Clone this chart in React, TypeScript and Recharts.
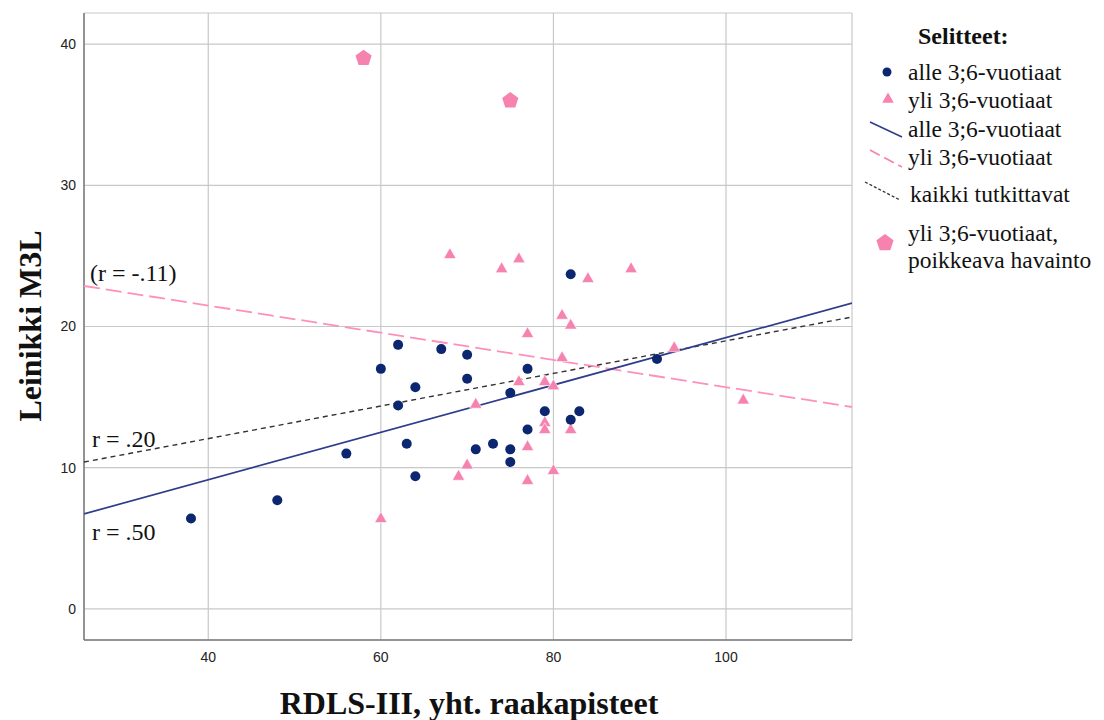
import React from 'react';
import { ScatterChart, Scatter, XAxis, YAxis, CartesianGrid } from 'recharts';

// alle 3;6-vuotiaat (x = RDLS-III raw score, y = Leinikki M3L)
const youngX = [38, 48, 56, 60, 62, 62, 63, 64, 64, 67, 70, 70, 71, 73, 75, 75, 75, 77, 77, 79, 82, 82, 83, 92];
const youngY = [6.4, 7.7, 11.0, 17.0, 18.7, 14.4, 11.7, 15.7, 9.4, 18.4, 18.0, 16.3, 11.3, 11.7, 11.3, 10.4, 15.3, 17.0, 12.7, 14.0, 23.7, 13.4, 14.0, 17.7];

// yli 3;6-vuotiaat
const oldX = [60, 68, 69, 70, 71, 74, 76, 76, 77, 77, 77, 79, 79, 79, 80, 80, 81, 81, 82, 82, 84, 89, 94, 102];
const oldY = [6.4, 25.1, 9.4, 10.2, 14.5, 24.1, 24.8, 16.1, 19.5, 11.5, 9.1, 16.1, 13.2, 12.7, 15.8, 9.8, 20.8, 17.8, 20.1, 12.7, 23.4, 24.1, 18.5, 14.8];

// yli 3;6-vuotiaat, poikkeava havainto
const outlierX = [58, 75];
const outlierY = [39, 36];

// fit lines, values at the ends of the x range
const fitX = [25.6, 114.6];
const fitYoung = [6.73, 21.66];
const fitOld = [22.87, 14.3];
const fitAll = [10.4, 20.67];

const xTicks = [40, 60, 80, 100];
const yTicks = [0, 10, 20, 30, 40];

const NAVY = '#0c2670';
const PINK = '#f682b0';
const SERIF = '"Liberation Serif", "Times New Roman", serif';

const pts = (xs: number[], ys: number[]) => xs.map((x, i) => ({ x, y: ys[i] }));

const youngData = pts(youngX, youngY);
const oldData = pts(oldX, oldY);
const outlierData = pts(outlierX, outlierY);
const fitYoungData = pts(fitX, fitYoung);
const fitOldData = pts(fitX, fitOld);
const fitAllData = pts(fitX, fitAll);

const triPoints = (cx: number, cy: number, s: number) =>
  `${cx},${cy - s * 1.1} ${cx + s},${cy + s * 0.65} ${cx - s},${cy + s * 0.65}`;

const pentPoints = (cx: number, cy: number, r: number) =>
  [0, 1, 2, 3, 4]
    .map((k) => {
      const a = -Math.PI / 2 + (k * 2 * Math.PI) / 5;
      return `${cx + r * Math.cos(a)},${cy + r * Math.sin(a)}`;
    })
    .join(' ');

const DotShape = (p: any) => <circle cx={p.cx} cy={p.cy} r={5} fill={NAVY} />;
const TriShape = (p: any) => (
  <polygon points={triPoints(p.cx, p.cy, 6.2)} fill={PINK} stroke="#fff" strokeWidth={0.6} />
);
const PentShape = (p: any) => <polygon points={pentPoints(p.cx, p.cy, 8.5)} fill={PINK} />;
const NoShape = () => <g />;

const legendText: React.CSSProperties = { fontFamily: SERIF, fontSize: 23.5, fill: '#111' };

const Overlay = () => (
  <svg width={1104} height={720} style={{ position: 'absolute', left: 0, top: 0, pointerEvents: 'none' }}>
    <text x={30} y={326} transform="rotate(-90 30 326)" textAnchor="middle" dominantBaseline="central"
      style={{ fontFamily: SERIF, fontSize: 32, fontWeight: 700, fill: '#111' }}>Leinikki M3L</text>
    <text x={469} y={714} textAnchor="middle" style={{ fontFamily: SERIF, fontSize: 32, fontWeight: 700, fill: '#111' }}>
      RDLS-III, yht. raakapisteet
    </text>

    <text x={90} y={281} style={{ fontFamily: SERIF, fontSize: 24, fill: '#111' }}>(r = -.11)</text>
    <text x={92} y={447} style={{ fontFamily: SERIF, fontSize: 24, fill: '#111' }}>r = .20</text>
    <text x={92} y={540} style={{ fontFamily: SERIF, fontSize: 24, fill: '#111' }}>r = .50</text>

    <text x={918} y={44} style={{ fontFamily: SERIF, fontSize: 24, fontWeight: 700, fill: '#111' }}>Selitteet:</text>
    <circle cx={887} cy={72} r={4.5} fill={NAVY} />
    <text x={908} y={80} style={legendText}>alle 3;6-vuotiaat</text>
    <polygon points={triPoints(888, 99, 5.8)} fill={PINK} />
    <text x={908} y={108} style={legendText}>yli 3;6-vuotiaat</text>
    <line x1={870} y1={122} x2={902} y2={137} stroke="#2e3d8c" strokeWidth={1.6} />
    <text x={908} y={137} style={legendText}>alle 3;6-vuotiaat</text>
    <line x1={870} y1={150} x2={902} y2={167} stroke={PINK} strokeWidth={1.7} strokeDasharray="11 5" />
    <text x={908} y={165} style={legendText}>yli 3;6-vuotiaat</text>
    <line x1={865} y1={182} x2={900} y2={200} stroke="#333" strokeWidth={1.3} strokeDasharray="3 2" />
    <text x={910} y={202} style={legendText}>kaikki tutkittavat</text>
    <polygon points={pentPoints(885, 243, 9)} fill={PINK} />
    <text x={908} y={241} style={legendText}>yli 3;6-vuotiaat,</text>
    <text x={908} y={268} style={legendText}>poikkeava havainto</text>
  </svg>
);

const App = () => (
  <div style={{ position: 'absolute', left: 0, top: 0, width: 1104, height: 720, background: '#fff' }}>
    <ScatterChart width={1104} height={720} margin={{ top: 13, right: 252, bottom: 50, left: 44 }}>
      <CartesianGrid stroke="#c8c8c8" strokeWidth={1.2} />
      <XAxis
        type="number"
        dataKey="x"
        domain={[25.6, 114.6]}
        ticks={xTicks}
        allowDataOverflow
        height={30}
        tickLine={false}
        tickMargin={6}
        axisLine={{ stroke: '#7a7a7a', strokeWidth: 1.5 }}
        tick={{ fill: '#222', fontSize: 14, fontFamily: '"Liberation Sans", Arial, sans-serif' }}
      />
      <YAxis
        type="number"
        dataKey="y"
        domain={[-2.2, 42.2]}
        ticks={yTicks}
        allowDataOverflow
        width={40}
        tickLine={false}
        axisLine={{ stroke: '#7a7a7a', strokeWidth: 1.5 }}
        tick={{ fill: '#222', fontSize: 14, fontFamily: '"Liberation Sans", Arial, sans-serif' }}
      />
      <Scatter data={fitAllData} shape={NoShape} line={{ stroke: '#333', strokeWidth: 1.4, strokeDasharray: '5 4' }} isAnimationActive={false} />
      <Scatter data={fitOldData} shape={NoShape} line={{ stroke: '#ff8fbd', strokeWidth: 1.8, strokeDasharray: '16 6' }} isAnimationActive={false} />
      <Scatter data={fitYoungData} shape={NoShape} line={{ stroke: '#2e3d8c', strokeWidth: 1.7 }} isAnimationActive={false} />
      <Scatter data={oldData} shape={TriShape} isAnimationActive={false} />
      <Scatter data={youngData} shape={DotShape} isAnimationActive={false} />
      <Scatter data={outlierData} shape={PentShape} isAnimationActive={false} />
    </ScatterChart>
    <Overlay />
  </div>
);

export default App;
